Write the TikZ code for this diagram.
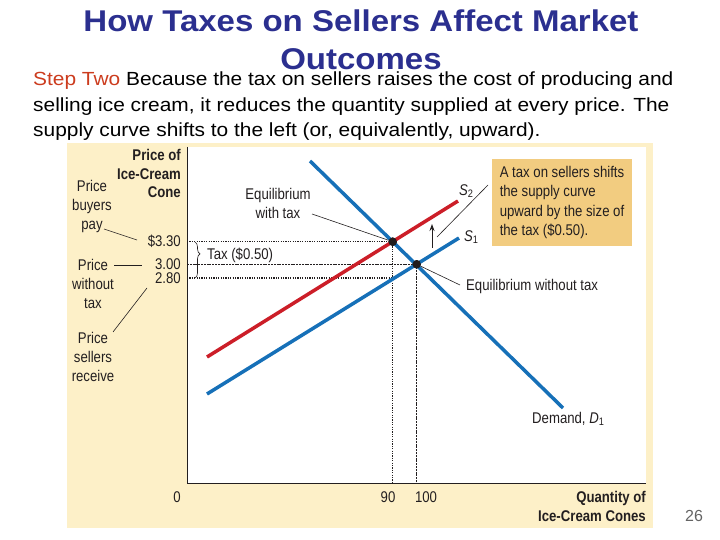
\documentclass[tikz,border=0pt]{standalone}
\usepackage{fontspec}
\setmainfont{Liberation Sans}
\newfontfamily\slidefont[FakeStretch=1.1]{Liberation Sans}
\newfontfamily\cf[FakeStretch=0.85]{Liberation Sans}
\usetikzlibrary{arrows.meta,decorations.pathreplacing}
\definecolor{panel}{RGB}{253,240,200}
\definecolor{gold}{RGB}{242,204,128}
\definecolor{titleblue}{RGB}{43,47,143}
\definecolor{stepred}{RGB}{204,60,30}
\definecolor{curveblue}{RGB}{22,112,184}
\definecolor{curvered}{RGB}{204,30,40}
\definecolor{ink}{RGB}{35,31,32}
\definecolor{pagegray}{RGB}{100,100,100}
\tikzset{
  titletext/.style={anchor=base, inner sep=0, text=titleblue, font=\slidefont\bfseries\fontsize{30bp}{38bp}\selectfont},
  bodytext/.style={anchor=base west, inner sep=0, text=black, font=\slidefont\fontsize{19bp}{25bp}\selectfont},
  lbl/.style={inner sep=0, text=ink, font=\cf\fontsize{15.5bp}{19bp}\selectfont},
  blbl/.style={inner sep=0, text=ink, font=\cf\bfseries\fontsize{15.5bp}{18.5bp}\selectfont},
  curve/.style={line width=3.5bp},
  leader/.style={draw=ink, line width=0.6bp},
  dotline/.style={draw=ink, line width=1.2bp, dash pattern=on 1.2bp off 1.2bp},
  denseline/.style={draw=ink, line width=1.2bp, dash pattern=on 2bp off 0.8bp},
  eqdot/.style={circle, fill=ink!90!black, inner sep=0, minimum size=8.5bp},
  callbox/.style={fill=gold, minimum width=140bp, minimum height=87bp, inner sep=0, align=left, text=ink, font=\cf\fontsize{15.5bp}{19.5bp}\selectfont}
}
\begin{document}
\begin{tikzpicture}[x=1bp,y=-1bp]
\useasboundingbox (0,0) rectangle (720,540);
% title and text
\node[titletext] (title1) at (361,32) {How Taxes on Sellers Affect Market};
\node[titletext] (title2) at (361,70) {Outcomes};
\node[bodytext] (body1) at (33,86) {\textcolor{stepred}{Step Two} Because the tax on sellers raises the cost of producing and};
\node[bodytext] (body2) at (33,112) {selling ice cream, it reduces the quantity supplied at every price. The};
\node[bodytext] (body3) at (33,137) {supply curve shifts to the left (or, equivalently, upward).};
% panel
\fill[panel] (67,143) rectangle (653,528);
\fill[white] (187,147) rectangle (646,483);
\draw[ink, line width=1bp] (187,147) -- (187,483) -- (646,483);
% callout box
\node[callbox] (box) at (562,202.5) {A tax on sellers shifts\\the supply curve\\upward by the size of\\the tax (\$0.50).};
% equilibrium points
\node[eqdot] (eqt) at (392.7,241.7) {};
\node[eqdot] (eqn) at (416.7,264.3) {};
\coordinate (y330) at (187,241.7);
\coordinate (y300) at (187,264.3);
\coordinate (y280) at (187,278);
\coordinate (p280) at (392.7,278);
\coordinate (x90) at (392.7,483);
\coordinate (x100) at (416.7,483);
% dotted guide lines
\draw[dotline] (y330) -- (eqt.center);
\draw[denseline] (y300) -- (eqn.center);
\draw[dotline] (y280) -- (p280);
\draw[dotline] (eqt.center) -- (x90);
\draw[denseline] (eqn.center) -- (x100);
% curves
\coordinate (s1a) at (207,394);
\coordinate (s1b) at (459,238);
\coordinate (s2a) at (207,357);
\coordinate (s2b) at (458,201);
\coordinate (da) at (310,161);
\coordinate (db) at (563,408);
\draw[curve, curveblue] (s1a) -- (s1b);
\draw[curve, curvered] (s2a) -- (s2b);
\draw[curve, curveblue] (da) -- (db);
\node[eqdot] at (eqt) {};
\node[eqdot] at (eqn) {};
% shift arrow
\coordinate (ar0) at (432,248);
\coordinate (ar1) at (432,224);
\draw[ink, line width=0.9bp, -{Stealth[length=7bp,width=5bp]}] (ar0) -- (ar1);
% curve labels
\node[lbl, anchor=west] (s2lab) at (459,191) {\itshape S\textsubscript{\upshape 2}};
\node[lbl, anchor=west] (s1lab) at (464,237) {\itshape S\textsubscript{\upshape 1}};
\node[lbl, anchor=west] (dlab) at (532,419) {Demand, \textit{D}\textsubscript{1}};
% callout leader
\coordinate (cl0) at (488,185);
\coordinate (cl1) at (437,237);
\draw[leader] (cl0) -- (cl1);
% equilibrium labels
\node[lbl, align=center] (ewt) at (278,203.5) {Equilibrium\\with tax};
\coordinate (ewt0) at (312,214);
\draw[leader] (ewt0) -- (eqt);
\node[lbl, anchor=west] (ewo) at (466,286) {Equilibrium without tax};
\coordinate (ewo0) at (460,285);
\draw[leader] (ewo0) -- (eqn);
% tax brace
\draw[ink, line width=0.6bp, decorate, decoration={brace, amplitude=5bp, aspect=0.33}] (195,242) -- (195,278);
\node[lbl, anchor=west] (taxlab) at (207,255) {Tax (\$0.50)};
% axis labels
\node[blbl, align=right, anchor=east] (ylab) at (181,173.5) {Price of\\Ice-Cream\\Cone};
\node[lbl, anchor=east] (t330) at (181,241) {\$3.30};
\node[lbl, anchor=east] (t300) at (181,264) {3.00};
\node[lbl, anchor=east] (t280) at (181,278) {2.80};
\node[lbl] (t0) at (177,497) {0};
\node[lbl] (t90) at (388,497) {90};
\node[lbl] (t100) at (426,497) {100};
\node[blbl, align=right, anchor=east, font=\cf\bfseries\fontsize{15.5bp}{19bp}\selectfont] (xlab) at (646,506.5) {Quantity of\\Ice-Cream Cones};
% side labels
\node[lbl, align=center] (buy) at (92,206.5) {Price\\buyers\\pay};
\coordinate (buy0) at (104,229);
\coordinate (buy1) at (137,240);
\draw[leader] (buy0) -- (buy1);
\node[lbl, align=center] (wo) at (93,284) {Price\\without\\tax};
\coordinate (wo0) at (114,265);
\coordinate (wo1) at (142,265);
\draw[leader] (wo0) -- (wo1);
\node[lbl, align=center] (sel) at (93,356.5) {Price\\sellers\\receive};
\coordinate (sel0) at (113,332);
\coordinate (sel1) at (147,288);
\draw[leader] (sel0) -- (sel1);
% page number
\node[inner sep=0, text=pagegray, font=\fontsize{16bp}{18bp}\selectfont] (page) at (694,516) {26};
\end{tikzpicture}
\end{document}
